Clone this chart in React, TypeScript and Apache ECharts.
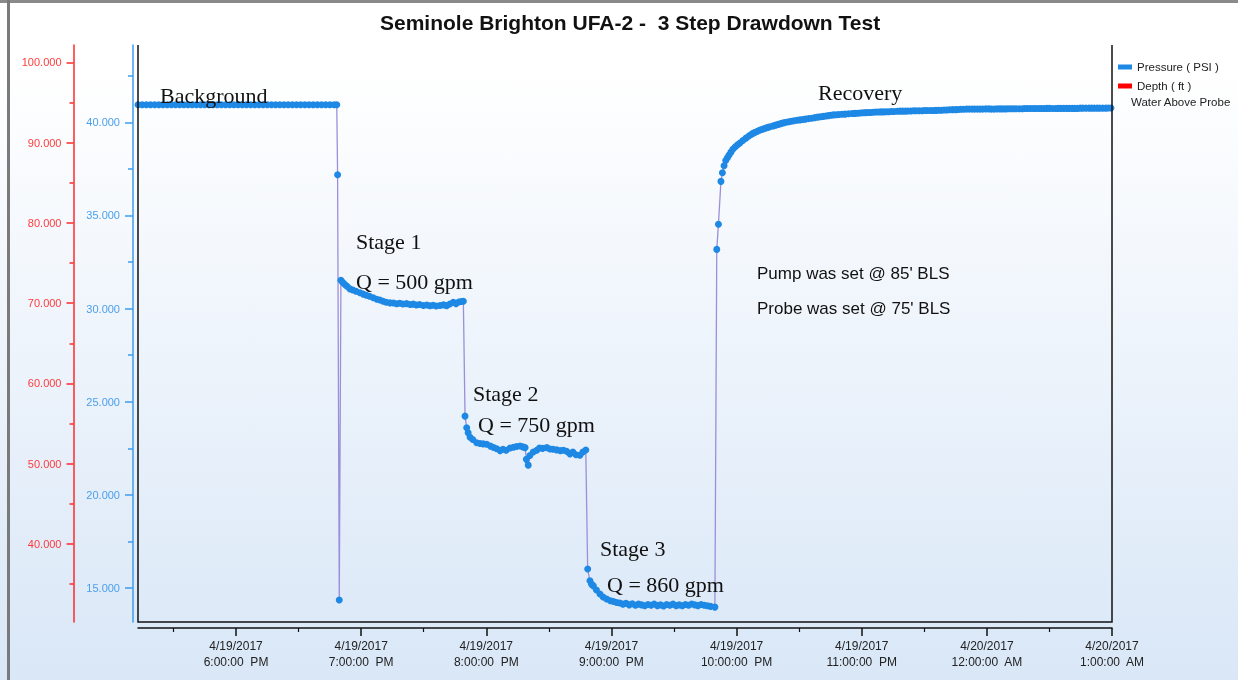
import React, { useEffect, useRef } from "react";
import * as echarts from "echarts";

// minutes after 5:00 PM on 4/19/2017, pressure (PSI)
const background: [number, number][] = [
  [13, 40.94], [15, 40.94], [17, 40.94], [19, 40.94], [21, 40.94], [23, 40.94], [25, 40.94], [27, 40.94],
  [29, 40.94], [31, 40.94], [33, 40.94], [35, 40.94], [37, 40.94], [39, 40.94], [41, 40.94], [43, 40.94],
  [45, 40.94], [47, 40.94], [49, 40.94], [51, 40.94], [53, 40.94], [55, 40.94], [57, 40.94], [59, 40.94],
  [61, 40.94], [63, 40.94], [65, 40.94], [67, 40.94], [69, 40.94], [71, 40.94], [73, 40.94], [75, 40.94],
  [77, 40.94], [79, 40.94], [81, 40.94], [83, 40.94], [85, 40.94], [87, 40.94], [89, 40.94], [91, 40.94],
  [93, 40.94], [95, 40.94], [97, 40.94], [99, 40.94], [101, 40.94], [103, 40.94], [105, 40.94], [107, 40.94],
  [108.3, 40.94], [108.7, 37.19], [109.5, 14.36],
];

const stage1: [number, number][] = [
  [110.3, 31.52], [111.2, 31.4], [112.2, 31.29], [113.2, 31.2], [114.6, 31.06], [116, 31.0], [117.5, 30.93],
  [119.4, 30.85], [121, 30.78], [122.5, 30.72], [124, 30.66], [125.8, 30.58], [127.5, 30.5], [129, 30.46],
  [130.5, 30.4], [132, 30.34], [133.8, 30.31], [135.5, 30.3], [137, 30.26], [138.5, 30.29], [140, 30.25],
  [141.8, 30.27], [143.5, 30.22], [145, 30.24], [146.5, 30.19], [148, 30.22], [149.8, 30.17], [151.5, 30.19],
  [153, 30.15], [154.5, 30.18], [156, 30.14], [157.8, 30.17], [159.5, 30.2], [161, 30.16], [162.5, 30.25],
  [164.2, 30.34], [165.5, 30.27], [166.8, 30.36], [168, 30.38], [169, 30.4],
];

const stage2: [number, number][] = [
  [169.8, 24.23], [170.6, 23.61], [171.3, 23.34], [172.2, 23.1], [173.5, 22.98], [175.4, 22.8], [177, 22.76],
  [178.5, 22.74], [180.2, 22.72], [182, 22.62], [183.5, 22.55], [185, 22.48], [186.6, 22.38], [188, 22.45],
  [189.5, 22.4], [191.4, 22.52], [193, 22.56], [194.5, 22.6], [196.2, 22.63], [197.5, 22.58], [198.6, 22.54],
  [199.2, 21.91], [200.1, 21.6], [200.9, 22.12], [202.5, 22.3], [204.2, 22.4], [205.5, 22.52], [207, 22.5],
  [209, 22.54], [210.5, 22.47], [212, 22.45], [213.7, 22.42], [215.5, 22.38], [217, 22.4], [218.5, 22.34],
  [220.1, 22.2], [221.5, 22.3], [223, 22.16], [224.9, 22.13], [226.3, 22.3], [227.7, 22.41],
];

const stage3: [number, number][] = [
  [228.6, 16.02], [229.7, 15.39], [230.5, 15.2], [231.3, 15.12], [232.8, 14.9], [234.5, 14.68], [236, 14.52],
  [237.7, 14.41], [239.5, 14.32], [241, 14.28], [242.5, 14.23], [244, 14.2], [245.5, 14.14], [247, 14.18],
  [248.5, 14.1], [250, 14.16], [251.5, 14.08], [253, 14.14], [254.5, 14.1], [256, 14.05], [257.5, 14.12],
  [259, 14.08], [260.5, 14.15], [262, 14.06], [263.5, 14.1], [265, 14.04], [266.5, 14.12], [268, 14.08],
  [269.5, 14.14], [271, 14.06], [272.5, 14.1], [274, 14.05], [275.5, 14.12], [277, 14.08], [278.5, 14.15],
  [280, 14.1], [281.5, 14.06], [283, 14.12], [284.5, 14.08], [286, 14.05], [287.5, 14.02], [289.6, 13.98],
];

const recovery: [number, number][] = [
  [290.5, 33.18], [291.3, 34.53], [292.5, 36.83], [293.2, 37.29], [294, 37.67], [294.8, 37.95], [295.6, 38.1],
  [296.4, 38.25], [297.3, 38.4], [298.2, 38.55], [299.3, 38.68], [300.5, 38.8], [301.6, 38.89], [303, 39.02],
  [304.5, 39.15], [305.9, 39.27], [307, 39.35], [308, 39.42], [309, 39.47], [310, 39.52], [311, 39.57],
  [312, 39.61], [313, 39.65], [314.1, 39.69], [315, 39.73], [316, 39.76], [317.6, 39.81], [318.8, 39.85],
  [320, 39.89], [321.2, 39.93], [322.4, 39.97], [323.7, 40.0], [325, 40.03], [326.2, 40.06], [327.5, 40.08],
  [329, 40.11], [330.4, 40.13], [331.7, 40.15], [333, 40.17], [334.5, 40.2], [336, 40.22], [337.4, 40.25],
  [338.9, 40.28], [340.2, 40.3], [341.5, 40.32], [342.8, 40.34], [344, 40.36], [345.2, 40.38], [346.4, 40.4],
  [347.7, 40.41], [349, 40.42], [350.5, 40.43], [352, 40.44], [353.7, 40.46], [355.4, 40.47], [356.7, 40.48],
  [358, 40.49], [359.2, 40.5], [360.5, 40.51], [361.8, 40.52], [363, 40.53], [364.2, 40.53], [365.5, 40.54],
  [366.8, 40.55], [368, 40.55], [369.2, 40.56], [370.5, 40.56], [371.8, 40.57], [373, 40.57], [374.2, 40.58],
  [375.5, 40.58], [377, 40.59], [378.3, 40.6], [379.6, 40.6], [381, 40.6], [382.2, 40.61], [383.5, 40.61],
  [384.8, 40.62], [386, 40.62], [387.5, 40.62], [389, 40.62], [390.2, 40.63], [391.5, 40.63], [393, 40.63],
  [394.3, 40.63], [395.6, 40.64], [397, 40.65], [398.2, 40.65], [399.5, 40.66], [400.8, 40.66], [402, 40.67],
  [403.5, 40.68], [405, 40.68], [406.2, 40.69], [407.5, 40.7], [408.9, 40.7], [410.3, 40.71], [411.6, 40.71],
  [413, 40.71], [414.2, 40.71], [415.5, 40.71], [416.8, 40.71], [418, 40.71], [419.5, 40.72], [421, 40.72],
  [422.2, 40.71], [423.5, 40.71], [424.9, 40.72], [426.3, 40.72], [427.6, 40.72], [429, 40.72], [430.2, 40.73],
  [431.5, 40.73], [432.8, 40.73], [434, 40.73], [435.5, 40.73], [437, 40.73], [438.2, 40.74], [439.5, 40.74],
  [440.9, 40.74], [442.3, 40.74], [443.6, 40.74], [445, 40.74], [446.2, 40.74], [447.5, 40.74], [448.8, 40.75],
  [450, 40.75], [451.5, 40.74], [453, 40.74], [454.2, 40.75], [455.5, 40.75], [456.9, 40.75], [458.3, 40.75],
  [459.6, 40.75], [461, 40.75], [462.2, 40.75], [463.5, 40.75], [464.8, 40.76], [466, 40.76], [467.5, 40.76],
  [469, 40.76], [470.2, 40.76], [471.5, 40.76], [472.8, 40.76], [474, 40.76], [475.5, 40.76], [477, 40.76],
  [478.2, 40.77], [479.5, 40.77],
];

const depth: [number, number][] = [];

const xTickMinutes = [60, 120, 180, 240, 300, 360, 420, 480];
const xTickLabels = [
  "4/19/2017\n6:00:00  PM",
  "4/19/2017\n7:00:00  PM",
  "4/19/2017\n8:00:00  PM",
  "4/19/2017\n9:00:00  PM",
  "4/19/2017\n10:00:00  PM",
  "4/19/2017\n11:00:00  PM",
  "4/20/2017\n12:00:00  AM",
  "4/20/2017\n1:00:00  AM",
];
const xMinorTicks = [30, 90, 150, 210, 270, 330, 390, 450];
const pressureTicks = [15, 20, 25, 30, 35, 40];
const pressureMinorTicks = [17.5, 22.5, 27.5, 32.5, 37.5, 42.5];
const depthTicks = [40, 50, 60, 70, 80, 90, 100];
const depthMinorTicks = [35, 45, 55, 65, 75, 85, 95];

const annotations = [
  { text: "Background", x: 160, y: 95, serif: true },
  { text: "Stage 1", x: 356, y: 241, serif: true },
  { text: "Q = 500 gpm", x: 356, y: 281, serif: true },
  { text: "Stage 2", x: 473, y: 393, serif: true },
  { text: "Q = 750 gpm", x: 478, y: 424, serif: true },
  { text: "Stage 3", x: 600, y: 548, serif: true },
  { text: "Q = 860 gpm", x: 607, y: 584, serif: true },
  { text: "Recovery", x: 818, y: 92, serif: true },
  { text: "Pump was set @ 85' BLS", x: 757, y: 273, serif: false },
  { text: "Probe was set @ 75' BLS", x: 757, y: 308, serif: false },
];

const BLUE = "#3d9cf0";
const RED = "#ff2a2a";

export default function App() {
  const ref = useRef<HTMLDivElement>(null);
  useEffect(() => {
    const chart = echarts.init(ref.current!, null, { renderer: "svg" });
    const pressure = [...background, ...stage1, ...stage2, ...stage3, ...recovery];
    const GL = 138, GT = 45, GR = 1112, GB = 622;
    const xMin = 13, xMax = 480;
    const pMin = 13.18, pMax = 44.15;
    const dMin = 30.29, dMax = 102.15;
    const sans = "'Liberation Sans', Arial, sans-serif";
    const serif = "'Liberation Serif', 'Times New Roman', serif";
    chart.setOption({
      animation: false,
      grid: { left: GL, top: GT, width: GR - GL, height: GB - GT, show: false, containLabel: false, outerBoundsMode: "none" },
      title: {
        text: "Seminole Brighton UFA-2 -  3 Step Drawdown Test",
        left: 375,
        top: 7,
        textStyle: { fontFamily: sans, fontWeight: "bold", fontSize: 21, color: "#111" },
      },
      legend: {
        orient: "vertical",
        left: 1118,
        top: 61,
        icon: "rect",
        itemWidth: 14,
        itemHeight: 5,
        itemGap: 7,
        padding: 0,
        textStyle: { fontFamily: sans, fontSize: 11.5, color: "#222" },
        data: ["Pressure ( PSI )", "Depth ( ft )"],
      },
      xAxis: [
        {
          type: "value",
          min: xMin,
          max: xMax,
          position: "bottom",
          offset: 6,
          axisLine: { show: true, lineStyle: { color: "#111", width: 1.5 } },
          axisTick: { show: true, length: 8, customValues: xTickMinutes, lineStyle: { color: "#111", width: 1.5 } },
          axisLabel: {
            show: true,
            customValues: xTickMinutes,
            margin: 10,
            fontFamily: sans,
            fontSize: 12,
            lineHeight: 16,
            color: "#222",
            formatter: (v: number) => {
              const i = xTickMinutes.indexOf(v);
              return i >= 0 ? xTickLabels[i] : "";
            },
          },
          splitLine: { show: false },
        },
        {
          type: "value",
          min: xMin,
          max: xMax,
          position: "bottom",
          offset: 6,
          axisLine: { show: false },
          axisTick: { show: true, length: 4, customValues: xMinorTicks, lineStyle: { color: "#111", width: 1.2 } },
          axisLabel: { show: false },
          splitLine: { show: false },
        },
      ],
      yAxis: [
        {
          type: "value",
          min: pMin,
          max: pMax,
          position: "left",
          offset: 5,
          axisLine: { show: true, lineStyle: { color: BLUE, width: 1.5 } },
          axisTick: { show: true, length: 8, customValues: pressureTicks, lineStyle: { color: BLUE, width: 1.5 } },
          axisLabel: {
            show: true,
            customValues: pressureTicks,
            margin: 13,
            fontFamily: sans,
            fontSize: 11,
            color: "#4a9fec",
            formatter: (v: number) => v.toFixed(3),
          },
          splitLine: { show: false },
        },
        {
          type: "value",
          min: pMin,
          max: pMax,
          position: "left",
          offset: 5,
          axisLine: { show: false },
          axisTick: { show: true, length: 5, customValues: pressureMinorTicks, lineStyle: { color: BLUE, width: 1.5 } },
          axisLabel: { show: false },
          splitLine: { show: false },
        },
        {
          type: "value",
          min: dMin,
          max: dMax,
          position: "left",
          offset: 64.5,
          axisLine: { show: true, lineStyle: { color: RED, width: 1.5 } },
          axisTick: { show: true, length: 7, customValues: depthTicks, lineStyle: { color: RED, width: 1.5 } },
          axisLabel: {
            show: true,
            customValues: depthTicks,
            margin: 12,
            fontFamily: sans,
            fontSize: 11,
            color: "#ff3b3b",
            formatter: (v: number) => v.toFixed(3),
          },
          splitLine: { show: false },
        },
        {
          type: "value",
          min: dMin,
          max: dMax,
          position: "left",
          offset: 64.5,
          axisLine: { show: false },
          axisTick: { show: true, length: 4, customValues: depthMinorTicks, lineStyle: { color: RED, width: 1.5 } },
          axisLabel: { show: false },
          splitLine: { show: false },
        },
      ],
      series: [
        {
          name: "Pressure ( PSI )",
          type: "line",
          xAxisIndex: 0,
          yAxisIndex: 0,
          data: pressure,
          showSymbol: true,
          showAllSymbol: true,
          symbol: "circle",
          symbolSize: 7,
          itemStyle: { color: "#1e88e5" },
          lineStyle: { color: "#9b8fd9", width: 1.3 },
          z: 5,
        },
        {
          name: "Depth ( ft )",
          type: "line",
          xAxisIndex: 0,
          yAxisIndex: 2,
          data: depth,
          itemStyle: { color: "#ff0000" },
          lineStyle: { color: "#ff0000" },
        },
      ],
      graphic: [
        {
          type: "rect",
          z: -100,
          silent: true,
          shape: { x: 0, y: 0, width: 1238, height: 680 },
          style: {
            fill: new echarts.graphic.LinearGradient(0, 0, 0, 1, [
              { offset: 0, color: "#ffffff" },
              { offset: 0.1, color: "#ffffff" },
              { offset: 1, color: "#d9e7f7" },
            ]),
          },
        },
        { type: "rect", z: -50, silent: true, shape: { x: 0, y: 0, width: 1238, height: 3 }, style: { fill: "#8a8a8a" } },
        { type: "rect", z: -50, silent: true, shape: { x: 7, y: 0, width: 3, height: 680 }, style: { fill: "#7a7a7a" } },
        {
          type: "polyline",
          z: 10,
          silent: true,
          shape: { points: [[GL, GT], [GL, GB], [GR, GB], [GR, GT]] },
          style: { stroke: "#111", lineWidth: 1.5, fill: null },
        },
        {
          type: "text",
          left: 1131,
          top: 96,
          silent: true,
          style: { text: "Water Above Probe", fontFamily: sans, fontSize: 11.5, fill: "#222" },
        },
        ...annotations.map((a) => ({
          type: "text",
          x: a.x,
          y: a.y,
          z: 20,
          silent: true,
          style: {
            text: a.text,
            fontFamily: a.serif ? serif : sans,
            fontSize: a.serif ? 22 : 17,
            fill: "#111",
            verticalAlign: "middle",
          },
        })),
      ],
    });
    return () => chart.dispose();
  }, []);
  return <div ref={ref} style={{ position: "fixed", left: 0, top: 0, width: 1238, height: 680 }} />;
}
